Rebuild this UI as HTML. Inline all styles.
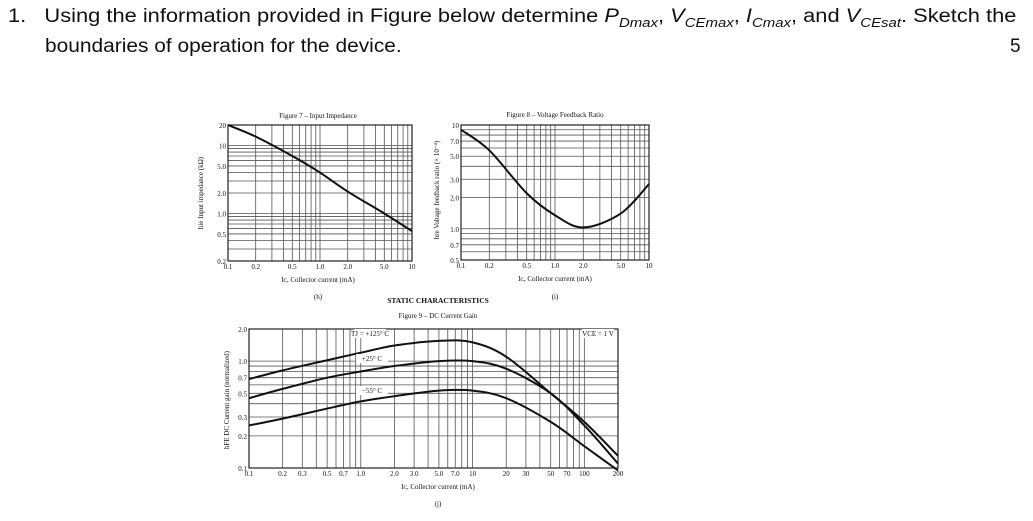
<!DOCTYPE html>
<html><head><meta charset="utf-8">
<style>
body{margin:0;background:#fff;width:1033px;height:521px;overflow:hidden;position:relative;font-family:"Liberation Sans",sans-serif}
.q{position:absolute;font-size:19px;color:#111;white-space:nowrap;transform-origin:0 0}
svg{position:absolute;left:0;top:0}
svg text{font-family:"Liberation Serif",serif;fill:#111}
</style></head><body>
<div class="q" style="left:8px;top:6px;transform:scaleX(1.15)">1.&nbsp;&nbsp;&nbsp;Using the information provided in Figure below determine <i>P<sub style="font-size:13px">Dmax</sub></i>, <i>V<sub style="font-size:13px">CEmax</sub></i>, <i>I<sub style="font-size:13px">Cmax</sub></i>, and <i>V<sub style="font-size:13px">CEsat</sub></i>. Sketch the</div>
<div class="q" style="left:45px;top:36px;transform:scaleX(1.1)">boundaries of operation for the device.</div>
<div class="q" style="left:1010px;top:36px">5</div>
<svg id="s" width="1033" height="521"></svg>
<script>
const f7X=[0.1,0.2,0.5,1,2,5,10];
const f7Y=[20,13.5,7,4,2.1,1.0,0.55];
const f8X=[0.1,0.2,0.5,1,2,5,10];
const f8Y=[9,5.7,2.2,1.35,1.03,1.4,2.7];
const f9X=[0.1,0.2,0.5,1,2,5,10,20,50,100,200];
const f9Hot=[0.68,0.82,1.02,1.2,1.4,1.55,1.5,1.1,0.5,0.27,0.13];
const f9Room=[0.45,0.55,0.7,0.8,0.9,1.0,1.0,0.85,0.5,0.25,0.11];
const f9Cold=[0.25,0.29,0.36,0.42,0.47,0.53,0.53,0.45,0.27,0.16,0.095];
const f7XTicks=["0.1","0.2","0.5","1.0","2.0","5.0","10"];
const f7YTicks=["20","10","5.0","2.0","1.0","0.5","0.2"];
const f8XTicks=["0.1","0.2","0.5","1.0","2.0","5.0","10"];
const f8YTicks=["10","7.0","5.0","3.0","2.0","1.0","0.7","0.5"];
const f9XTicks=["0.1","0.2","0.3","0.5","0.7","1.0","2.0","3.0","5.0","7.0","10","20","30","50","70","100","200"];
const f9YTicks=["2.0","1.0","0.7","0.5","0.3","0.2","0.1"];

const NS="http://www.w3.org/2000/svg",svg=document.getElementById('s');
function el(t,a,txt){const e=document.createElementNS(NS,t);for(const k in a)e.setAttribute(k,a[k]);if(txt!==undefined)e.textContent=txt;svg.appendChild(e);return e;}
function logScale(min,max,p0,p1){const a=Math.log10(min),b=Math.log10(max);return v=>p0+(Math.log10(v)-a)/(b-a)*(p1-p0);}
function chart(c){
  const sx=logScale(c.xmin,c.xmax,c.x0,c.x1),sy=logScale(c.ymin,c.ymax,c.y1,c.y0);
  for(let d=Math.floor(Math.log10(c.xmin));d<=Math.ceil(Math.log10(c.xmax));d++)for(let m=1;m<10;m++){const v=m*Math.pow(10,d);if(v<c.xmin||v>c.xmax)continue;const g=el('line',{x1:sx(v),x2:sx(v),y1:c.y0,y2:c.y1,stroke:'#555','stroke-width':0.8});

}
  for(let d=Math.floor(Math.log10(c.ymin));d<=Math.ceil(Math.log10(c.ymax));d++)for(let m=1;m<10;m++){const v=m*Math.pow(10,d);if(v<c.ymin||v>c.ymax)continue;const g=el('line',{x1:c.x0,x2:c.x1,y1:sy(v),y2:sy(v),stroke:'#555','stroke-width':0.8});

}
  const fr=el('rect',{x:c.x0,y:c.y0,width:c.x1-c.x0,height:c.y1-c.y0,fill:'none',stroke:'#222','stroke-width':1.2});


  c.xt.forEach(t=>{const e=el('text',{x:sx(+t),y:c.y1+8,'font-size':7,'text-anchor':'middle'},t);

});
  c.yt.forEach(t=>{const e=el('text',{x:c.x0-2,y:sy(+t)+3,'font-size':7,'text-anchor':'end'},t);

});
  c.series.forEach(s=>{const pts=c.xs.map((x,i)=>[sx(x),sy(s.v[i])]);let d='M'+pts[0][0]+','+pts[0][1];
    for(let i=0;i<pts.length-1;i++){const p0=pts[Math.max(0,i-1)],p1=pts[i],p2=pts[i+1],p3=pts[Math.min(pts.length-1,i+2)];
      d+=' C'+(p1[0]+(p2[0]-p0[0])/6)+','+(p1[1]+(p2[1]-p0[1])/6)+' '+(p2[0]-(p3[0]-p1[0])/6)+','+(p2[1]-(p3[1]-p1[1])/6)+' '+p2[0]+','+p2[1];}
    const p=el('path',{d:d,fill:'none',stroke:'#111','stroke-width':2});

});
}
function txt(x,y,t,size,name,extra){const e=el('text',Object.assign({x:x,y:y,'font-size':size,'text-anchor':'middle'},extra||{}),t);

return e;}

chart({name:'fig7',x0:228,x1:412,y0:125,y1:261,xmin:0.1,xmax:10,ymin:0.2,ymax:20,xs:f7X,xt:f7XTicks,yt:f7YTicks,series:[{name:'input-impedance-curve',v:f7Y}]});
chart({name:'fig8',x0:461,x1:649,y0:125,y1:260,xmin:0.1,xmax:10,ymin:0.5,ymax:10,xs:f8X,xt:f8XTicks,yt:f8YTicks,series:[{name:'feedback-ratio-curve',v:f8Y}]});
chart({name:'fig9',x0:249,x1:618,y0:329,y1:468,xmin:0.1,xmax:200,ymin:0.1,ymax:2,xs:f9X,xt:f9XTicks,yt:f9YTicks,series:[{name:'gain-125c-curve',v:f9Hot},{name:'gain-25c-curve',v:f9Room},{name:'gain-minus55c-curve',v:f9Cold}]});

txt(318,118,'Figure 7 – Input Impedance',7,'fig7-title');
txt(318,282,'Iᴄ, Collector current (mA)',7,'fig7-x-title');
txt(318,299,'(h)',7,'fig7-caption');
txt(203,193,'hie Input impedance (kΩ)',7,'fig7-y-title',{transform:'rotate(-90 203 193)'});
txt(555,117,'Figure 8 – Voltage Feedback Ratio',7,'fig8-title');
txt(555,281,'Iᴄ, Collector current (mA)',7,'fig8-x-title');
txt(555,299,'(i)',7,'fig8-caption');
txt(439,190,'hre Voltage feedback ratio (× 10⁻⁴)',7,'fig8-y-title',{transform:'rotate(-90 439 190)'});
txt(438,303,'STATIC CHARACTERISTICS',7.5,'section-title',{'font-weight':'bold'});
txt(438,318,'Figure 9 – DC Current Gain',7,'fig9-title');
txt(438,489,'Iᴄ, Collector current (mA)',7,'fig9-x-title');
txt(438,506,'(j)',7,'fig9-caption');
txt(229,400,'hFE DC Current gain (normalized)',7,'fig9-y-title',{transform:'rotate(-90 229 400)'});
[[370,336,'TJ = +125° C','label-125c'],[372,361,'+25° C','label-25c'],[372,393,'−55° C','label-minus55c'],[598,336,'VCE = 1 V','label-vce']].forEach(a=>{const r=el('rect',{x:a[0]-16,y:a[1]-7,width:32,height:9,fill:'#fff'});


txt(a[0],a[1],a[2],7,a[3]);});
</script>
</body></html>
